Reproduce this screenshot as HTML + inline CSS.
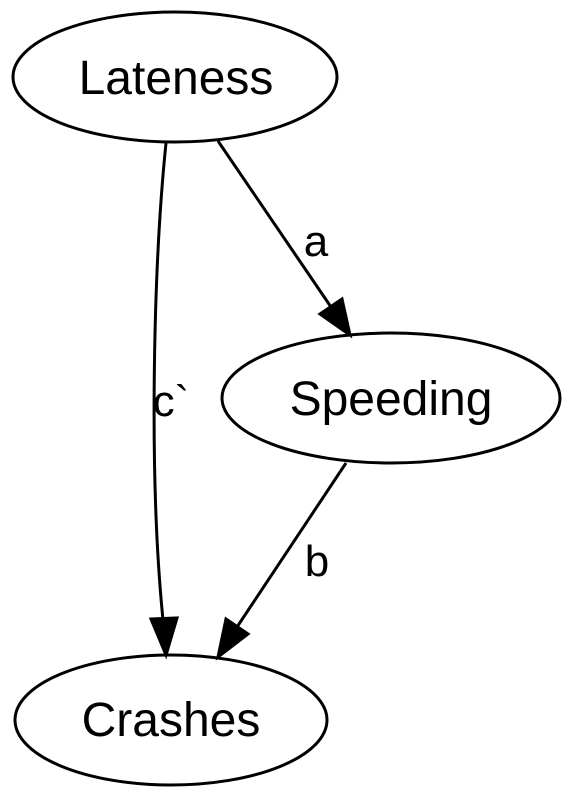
<!DOCTYPE html>
<html><head><meta charset="utf-8"><style>html,body{margin:0;padding:0;background:#fff}svg{display:block}text{font-family:"Liberation Sans",Arial,sans-serif;font-size:44px;fill:#000}.node{font-size:48px}</style></head>
<body>
<svg width="576" height="800" viewBox="0 0 576 800">
<g fill="none" stroke="#000" stroke-width="3">
<ellipse cx="175" cy="77" rx="162" ry="65"/>
<ellipse cx="391" cy="398" rx="169" ry="65"/>
<ellipse cx="171" cy="720" rx="156" ry="65"/>
<path d="M166,143 C154,260 148,470 163,620"/>
<path d="M218,141 L331,307"/>
<path d="M346,463 L237,627"/>
</g>
<g fill="#000" stroke="#000" stroke-width="3">
<polygon points="151,619 177,618 166,655"/>
<polygon points="320,314 342,299 350,335"/>
<polygon points="226,619 248,634 218,657"/>
</g>
<text class="node" x="176" y="94" text-anchor="middle">Lateness</text>
<text class="node" x="391" y="415" text-anchor="middle">Speeding</text>
<text class="node" x="171" y="736" text-anchor="middle">Crashes</text>
<text x="316" y="256" text-anchor="middle">a</text>
<text x="171" y="416" text-anchor="middle">c`</text>
<text x="317" y="576" text-anchor="middle">b</text>
</svg>
</body></html>
